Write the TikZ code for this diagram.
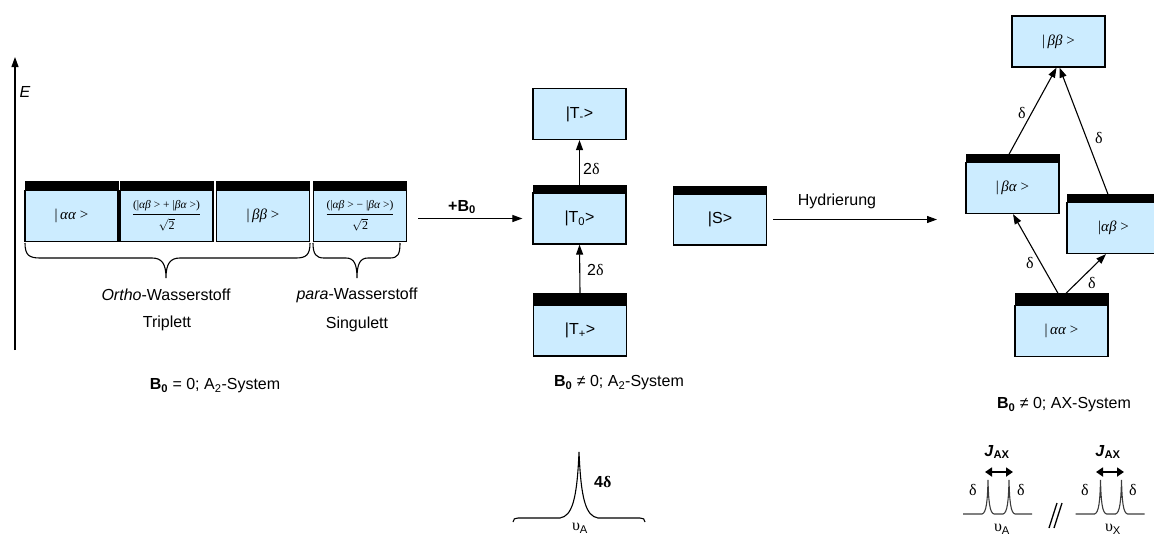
\documentclass[tikz,border=0pt]{standalone}
\usepackage{fontspec}
\setmainfont{Liberation Sans}
\newfontfamily\grserif{Liberation Serif}
\usetikzlibrary{arrows.meta}
\definecolor{boxblue}{RGB}{204,236,255}
\definecolor{specgray}{RGB}{60,60,60}
\newcommand\mathsz{\grserif\fontsize{15}{17}\selectfont}
\newcommand\fracsz{\fontsize{12}{14}\selectfont}
\newcommand\ketlbl[1]{{\mathsz |\,\textit{#1}\ >}}
\newcommand\fraclbl[1]{{\fracsz$\displaystyle\frac{\hbox{\grserif\fontsize{11.5}{14}\selectfont\rule[-4.5pt]{0pt}{0pt}(|\textit{αβ} >\ #1\ |\textit{βα} >)}}{\rule{0pt}{14pt}\sqrt{\hbox{\grserif\fontsize{12}{14}\selectfont 2}}}$}}
\tikzset{
  stbox/.style={draw=black, line width=1.2pt, fill=boxblue, minimum width=93pt, minimum height=51pt, inner sep=0pt},
  stbar/.style={draw=black, fill=black, line width=0.6pt, minimum width=93pt, minimum height=#1, inner sep=0pt, anchor=south},
  stbar/.default=7pt,
  conn/.style={draw=black, line width=1.1pt, -{Triangle[length=10pt,width=7pt]}},
  brc/.style={draw=black, line width=1.1pt},
  spec/.style={draw=specgray, line width=1.1pt},
  lbl/.style={inner sep=1pt},
}
\begin{document}
\begin{tikzpicture}[x=1pt,y=-1pt, font=\fontsize{16}{19}\selectfont]
\useasboundingbox (0,0) rectangle (1154,536);
\clip (0,0) rectangle (1154,536);

% energy axis
\coordinate (Ebot) at (15,350);
\coordinate (Etop) at (15,57);
\draw[conn] (Ebot) -- (Etop);
\node[lbl] (Elab) at (25,92) {\textit{E}};

% left boxes (B0 = 0)
\node[stbox] (L1) at (71.5,216) {\ketlbl{αα}};
\node[stbox] (L2) at (166.5,216) {\fraclbl{+}};
\node[stbox] (L3) at (263,216) {\ketlbl{ββ}};
\node[stbox] (L4) at (360,216) {\fraclbl{−}};
\node[stbar=8pt] (L1b) at (L1.north) {};
\node[stbar=8pt] (L2b) at (L2.north) {};
\node[stbar=8pt] (L3b) at (L3.north) {};
\node[stbar=8pt] (L4b) at (L4.north) {};

% braces
\draw[brc] (25,243) .. controls (25,255) and (29,258) .. (40,258) -- (152,258)
  .. controls (162,258) and (166,264) .. (166,278)
  .. controls (166,264) and (170,258) .. (180,258) -- (296,258)
  .. controls (306,258) and (310,255) .. (310,243);
\draw[brc] (313,243) .. controls (313,254) and (316,258) .. (324,258) -- (346,258)
  .. controls (354,258) and (357,264) .. (357,278)
  .. controls (357,264) and (360,258) .. (368,258) -- (390,258)
  .. controls (398,258) and (400,254) .. (400,243);

\node[lbl] (ortho) at (166,295) {\textit{Ortho}-Wasserstoff};
\node[lbl] (para) at (357,295) {\textit{para}-Wasserstoff};
\node[lbl] (trip) at (167,323) {Triplett};
\node[lbl] (sing) at (357,324) {Singulett};
\node[lbl] (cap1) at (215,386) {\textbf{B\textsubscript{0}} = 0; A\textsubscript{2}-System};

% middle column (B0 != 0, A2)
\node[stbox] (Tm) at (579.5,114) {|T\textsubscript{-}>};
\node[stbox] (T0) at (579.5,218.5) {|T\textsubscript{0}>};
\node[stbar=7pt] (T0b) at (T0.north) {};
\node[stbox] (Tp) at (580,330.5) {|T\textsubscript{+}>};
\node[stbar=11pt] (Tpb) at (Tp.north) {};
\draw[conn] (T0b.north) -- (Tm.south);
\draw[conn] (Tpb.north) -- (T0.south);
\node[lbl, anchor=west] (d1) at (582,169) {2{\grserif δ}};
\node[lbl, anchor=west] (d2) at (586,270) {2{\grserif δ}};

\coordinate (Bst) at (418,218.5);
\draw[conn] (Bst) -- ([xshift=-10pt]T0.west);
\node[lbl] (B0lab) at (462,207) {\textbf{+B\textsubscript{0}}};

\node[stbox] (S) at (720,219.5) {|S>};
\node[stbar=7pt] (Sb) at (S.north) {};
\coordinate (Hend) at (937,219.5);
\draw[conn] ([xshift=6pt]S.east) -- (Hend);
\node[lbl] (hyd) at (837,201) {Hydrierung};

\node[lbl] (cap2) at (619,383) {\textbf{B\textsubscript{0}} ≠ 0; A\textsubscript{2}-System};

% right column (AX)
\node[stbox] (bb) at (1058.5,41.5) {\ketlbl{ββ}};
\node[stbox] (ba) at (1012.5,188) {\ketlbl{βα}};
\node[stbar=7pt] (bab) at (ba.north) {};
\node[stbox] (ab) at (1113.5,228) {{\mathsz |\textit{αβ}\ >}};
\node[stbar=7pt] (abb) at (ab.north) {};
\node[stbox] (aa) at (1061.5,331) {\ketlbl{αα}};
\node[stbar=11pt] (aab) at (aa.north) {};

\draw[conn] ([xshift=-3.5pt]bab.north) -- ([xshift=-2pt]bb.south);
\draw[conn] ([xshift=-5.5pt]abb.north) -- ([xshift=1pt]bb.south);
\draw[conn] ([xshift=-3.5pt]aab.north) -- ([xshift=0.5pt]ba.south);
\draw[conn] ([xshift=4.5pt]aab.north) -- ([xshift=-7.5pt]ab.south);

\node[lbl] (r1) at (1022,113) {\grserif δ};
\node[lbl] (r2) at (1099,138) {\grserif δ};
\node[lbl] (r3) at (1030,263) {\grserif δ};
\node[lbl] (r4) at (1092,283) {\grserif δ};

\node[lbl] (cap3) at (1064,405) {\textbf{B\textsubscript{0}} ≠ 0; AX-System};

% A2 spectrum
\draw[brc] (513,522) .. controls (513,519) and (515,518) .. (518,518) -- (560,518)
  .. controls (572,516) and (577,500) .. (579,452)
  .. controls (581,500) and (586,516) .. (598,518) -- (640,518)
  .. controls (643,518) and (645,519) .. (645,522);
\node[lbl, anchor=west] (fourd) at (593,482) {\bfseries 4{\grserif δ}};
\node[lbl] (nuA1) at (580,528) {{\grserif υ}\textsubscript{A}};

% AX spectra
\draw[spec] (963,514) -- (982,514) .. controls (986.5,513) and (987.5,500) .. (988,480)
  .. controls (988.5,500) and (989.5,513) .. (994,514) -- (1003,514)
  .. controls (1007.5,513) and (1008.5,500) .. (1009,480)
  .. controls (1009.5,500) and (1010.5,513) .. (1015,514) -- (1032,514);
\begin{scope}[xshift=112.5pt]
\draw[spec] (963,514) -- (982,514) .. controls (986.5,513) and (987.5,500) .. (988,480)
  .. controls (988.5,500) and (989.5,513) .. (994,514) -- (1003,514)
  .. controls (1007.5,513) and (1008.5,500) .. (1009,480)
  .. controls (1009.5,500) and (1010.5,513) .. (1015,514) -- (1032,514);
\end{scope}

\node[lbl] (J1) at (997,452) {\textbf{\textit{J}\textsubscript{AX}}};
\node[lbl] (J2) at (1108,452) {\textbf{\textit{J}\textsubscript{AX}}};
\coordinate (J1l) at (985,472);
\coordinate (J1r) at (1013,472);
\coordinate (J2l) at (1096,472);
\coordinate (J2r) at (1124,472);
\draw[line width=1.8pt, {Triangle[length=7pt,width=9pt]}-{Triangle[length=7pt,width=9pt]}] (J1l) -- (J1r);
\draw[line width=1.8pt, {Triangle[length=7pt,width=9pt]}-{Triangle[length=7pt,width=9pt]}] (J2l) -- (J2r);

\node[lbl] (s1) at (973,490) {\grserif δ};
\node[lbl] (s2) at (1021,490) {\grserif δ};
\node[lbl] (s3) at (1085,490) {\grserif δ};
\node[lbl] (s4) at (1133,490) {\grserif δ};

\node[lbl] (nuA2) at (1002,529) {{\grserif υ}\textsubscript{A}};
\node[lbl] (nuX) at (1113,529) {{\grserif υ}\textsubscript{X}};

\draw[line width=1.3pt] (1049,528) -- (1057,503);
\draw[line width=1.3pt] (1054,528) -- (1062,503);
\end{tikzpicture}
\end{document}
